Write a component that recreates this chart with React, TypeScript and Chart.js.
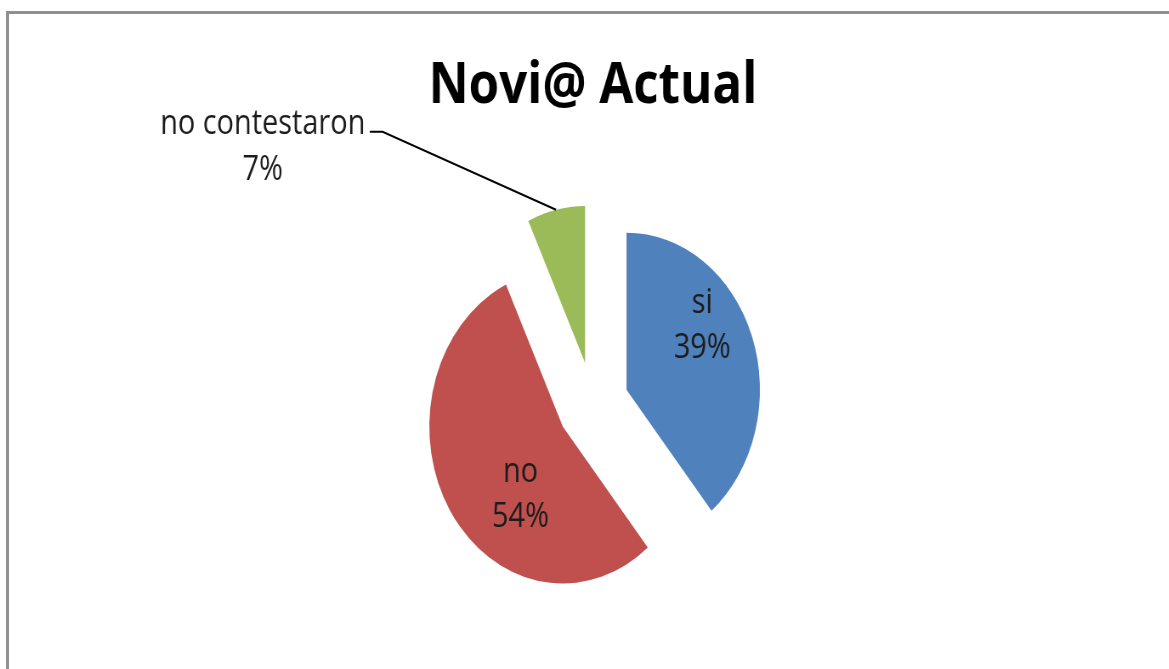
import React, { useEffect, useRef } from 'react';
import { Chart, registerables, ArcElement } from 'chart.js';

// ---- data ----
const categories: string[] = ['si', 'no', 'no contestaron'];
const values: number[] = [39, 54, 7];
const chartTitle = 'Novi@ Actual';

// ---- style ----
const sliceColors = ['#4F81BD', '#C0504D', '#9BBB59'];
const SQUISH = 0.85; // the reference pie is an ellipse (horizontally compressed)
const CANVAS_W = 1375;
const CANVAS_H = 669;
const EXPLODE = 42;
const RADIUS = 157;
const LABEL_FONT = '34px "Open Sans"';
const LABEL_LINE = 45;

type Placement =
  | { mode: 'inside'; angleShift: number; radiusFrac: number }
  | { mode: 'outside'; elbowDx: number; elbowDy: number; tail: number; textDx: number; textDy: number };

const labelPlacement: Placement[] = [
  { mode: 'inside', angleShift: -16, radiusFrac: 0.7 },
  { mode: 'inside', angleShift: -21.7, radiusFrac: 0.54 },
  { mode: 'outside', elbowDx: -204, elbowDy: -78, tail: 15, textDx: -141, textDy: -7 },
];

// Arc element that is translated along its mid-angle without being resized
class ExplodedArc extends (ArcElement as any) {
  static id = 'explodedArc';
  static defaults = { ...(ArcElement as any).defaults, explode: 0 };
  draw(ctx: CanvasRenderingContext2D) {
    const self: any = this;
    const explode = (self.options && self.options.explode) || 0;
    const mid = (self.startAngle + self.endAngle) / 2;
    ctx.save();
    ctx.translate(Math.cos(mid) * explode, Math.sin(mid) * explode);
    super.draw(ctx);
    ctx.restore();
  }
}

Chart.register(...registerables, ExplodedArc as any);
(Chart.defaults as any).datasets.pie.dataElementType = 'explodedArc';

const sliceLabels = {
  id: 'sliceLabels',
  afterDatasetsDraw(chart: any) {
    const meta = chart.getDatasetMeta(0);
    const ctx: CanvasRenderingContext2D = chart.ctx;
    const total = values.reduce((a, b) => a + b, 0);
    ctx.save();
    ctx.font = LABEL_FONT;
    ctx.fillStyle = '#1c1c1c';
    ctx.textAlign = 'center';
    ctx.textBaseline = 'middle';
    meta.data.forEach((arc: any, i: number) => {
      const p = arc.getProps(['x', 'y', 'startAngle', 'endAngle', 'outerRadius'], true);
      const explode = (arc.options && arc.options.explode) || 0;
      const mid = (p.startAngle + p.endAngle) / 2;
      const cx = p.x + Math.cos(mid) * explode;
      const cy = p.y + Math.sin(mid) * explode;
      const pct = Math.round((values[i] / total) * 100) + '%';
      const pl = labelPlacement[i];
      if (pl.mode === 'inside') {
        const a = mid + (pl.angleShift * Math.PI) / 180;
        const r = p.outerRadius * pl.radiusFrac;
        const lx = cx + Math.cos(a) * r;
        const ly = cy + Math.sin(a) * r;
        ctx.fillText(categories[i], lx, ly - LABEL_LINE / 2);
        ctx.fillText(pct, lx, ly + LABEL_LINE / 2);
      } else {
        const ax = cx + Math.cos(mid) * p.outerRadius;
        const ay = cy + Math.sin(mid) * p.outerRadius;
        const ex = ax + pl.elbowDx;
        const ey = ay + pl.elbowDy;
        ctx.beginPath();
        ctx.strokeStyle = '#000';
        ctx.lineWidth = 2;
        ctx.moveTo(ax, ay);
        ctx.lineTo(ex, ey);
        ctx.lineTo(ex - pl.tail, ey);
        ctx.stroke();
        const tx = ex + pl.textDx;
        const ty = ey + pl.textDy;
        ctx.fillText(categories[i], tx, ty);
        ctx.fillText(pct, tx, ty + LABEL_LINE + 1);
      }
    });
    ctx.restore();
  },
};

export default function App() {
  const ref = useRef<HTMLCanvasElement>(null);
  useEffect(() => {
    if (!ref.current) return;
    const chart = new Chart(ref.current, {
      type: 'pie',
      data: {
        labels: categories,
        datasets: [
          {
            data: values,
            backgroundColor: sliceColors,
            borderWidth: 0,
            radius: RADIUS,
            explode: EXPLODE,
            clip: false,
          } as any,
        ],
      },
      options: {
        animation: false,
        responsive: false,
        events: [],
        layout: { padding: { left: 20, right: 0, top: 0, bottom: 0 } },
        plugins: {
          legend: { display: false },
          tooltip: { enabled: false },
          title: {
            display: true,
            text: chartTitle,
            color: '#000',
            font: { family: '"Open Sans"', size: 58, weight: 'bold', lineHeight: 1.2 },
            padding: { top: 52, bottom: 17.4 },
          },
        },
      } as any,
      plugins: [sliceLabels],
    });
    return () => chart.destroy();
  }, []);

  return (
    <div
      style={{
        position: 'absolute',
        left: 0,
        top: 0,
        width: 1169,
        height: 669,
        overflow: 'hidden',
        background: '#fff',
      }}
    >
      <div
        style={{
          position: 'absolute',
          left: 6,
          top: 11,
          right: -10,
          bottom: -10,
          borderTop: '3px solid #909090',
          borderLeft: '3px solid #909090',
        }}
      />
      <canvas
        ref={ref}
        width={CANVAS_W}
        height={CANVAS_H}
        style={{
          position: 'absolute',
          left: 0,
          top: 0,
          transform: `scaleX(${SQUISH})`,
          transformOrigin: '0 0',
        }}
      />
    </div>
  );
}
